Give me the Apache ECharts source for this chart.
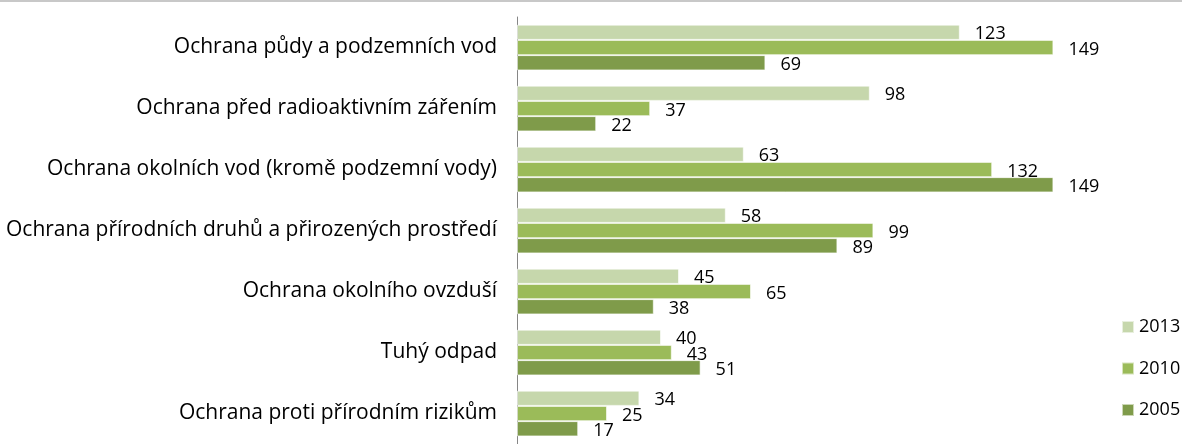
<!DOCTYPE html>
<html>
<head>
    <meta charset="UTF-8">
    <title>Ochrana životního prostředí</title>
    <style>
        body { margin: 0; background: #fff; }
        #main { width: 1182px; height: 444px; }
    </style>
</head>
<body>
<div id="main"></div>
<script src="https://cdn.jsdelivr.net/npm/echarts@6/dist/echarts.min.js"></script>
<script type="text/javascript">
    // kategorie (shora dolů)
    var categories = [
        'Ochrana půdy a podzemních vod',
        'Ochrana před radioaktivním zářením',
        'Ochrana okolních vod (kromě podzemní vody)',
        'Ochrana přírodních druhů a přirozených prostředí',
        'Ochrana okolního ovzduší',
        'Tuhý odpad',
        'Ochrana proti přírodním rizikům'
    ];
    var years = ['2013', '2010', '2005'];
    var values2013 = [123, 98, 63, 58, 45, 40, 34];
    var values2010 = [149, 37, 132, 99, 65, 43, 25];
    var values2005 = [69, 22, 149, 89, 38, 51, 17];
    var colors = ['#c6d7ac', '#9bbb59', '#7f9b4a'];

    var font = 'Open Sans';
    var myChart = echarts.init(document.getElementById('main'));

    function makeSeries(name, data, color) {
        return {
            name: name,
            type: 'bar',
            data: data,
            barGap: 0,
            barCategoryGap: '25%',
            itemStyle: { color: color, borderColor: 'rgba(255,255,255,0.6)', borderWidth: 1 },
            label: {
                show: true,
                position: 'right',
                distance: 15,
                offset: [0, 2],
                color: '#000',
                fontFamily: font,
                fontSize: 18
            }
        };
    }

    var option = {
        animation: false,
        graphic: [{
            type: 'line',
            shape: { x1: 0, y1: 1, x2: 1182, y2: 1 },
            style: { stroke: '#c8c8c8', lineWidth: 2 }
        }],
        legend: {
            data: years,
            orient: 'vertical',
            left: 1116,
            top: 313,
            itemWidth: 12,
            itemHeight: 12,
            itemGap: 23.5,
            itemTextGap: 5,
            icon: 'rect',
            textStyle: { fontFamily: font, fontSize: 18, lineHeight: 18, color: '#000' }
        },
        grid: { left: 517, top: 17, width: 576, height: 432 },
        xAxis: {
            type: 'value',
            min: 0,
            max: 160,
            show: false
        },
        yAxis: {
            type: 'category',
            data: categories,
            inverse: true,
            axisLine: { lineStyle: { color: '#868686', width: 1 } },
            axisTick: { length: 6, lineStyle: { color: '#868686' } },
            axisLabel: { margin: 20, color: '#000', fontFamily: font, fontSize: 21 }
        },
        series: [
            makeSeries(years[0], values2013, colors[0]),
            makeSeries(years[1], values2010, colors[1]),
            makeSeries(years[2], values2005, colors[2])
        ]
    };

    myChart.setOption(option);
</script>
</body>
</html>
